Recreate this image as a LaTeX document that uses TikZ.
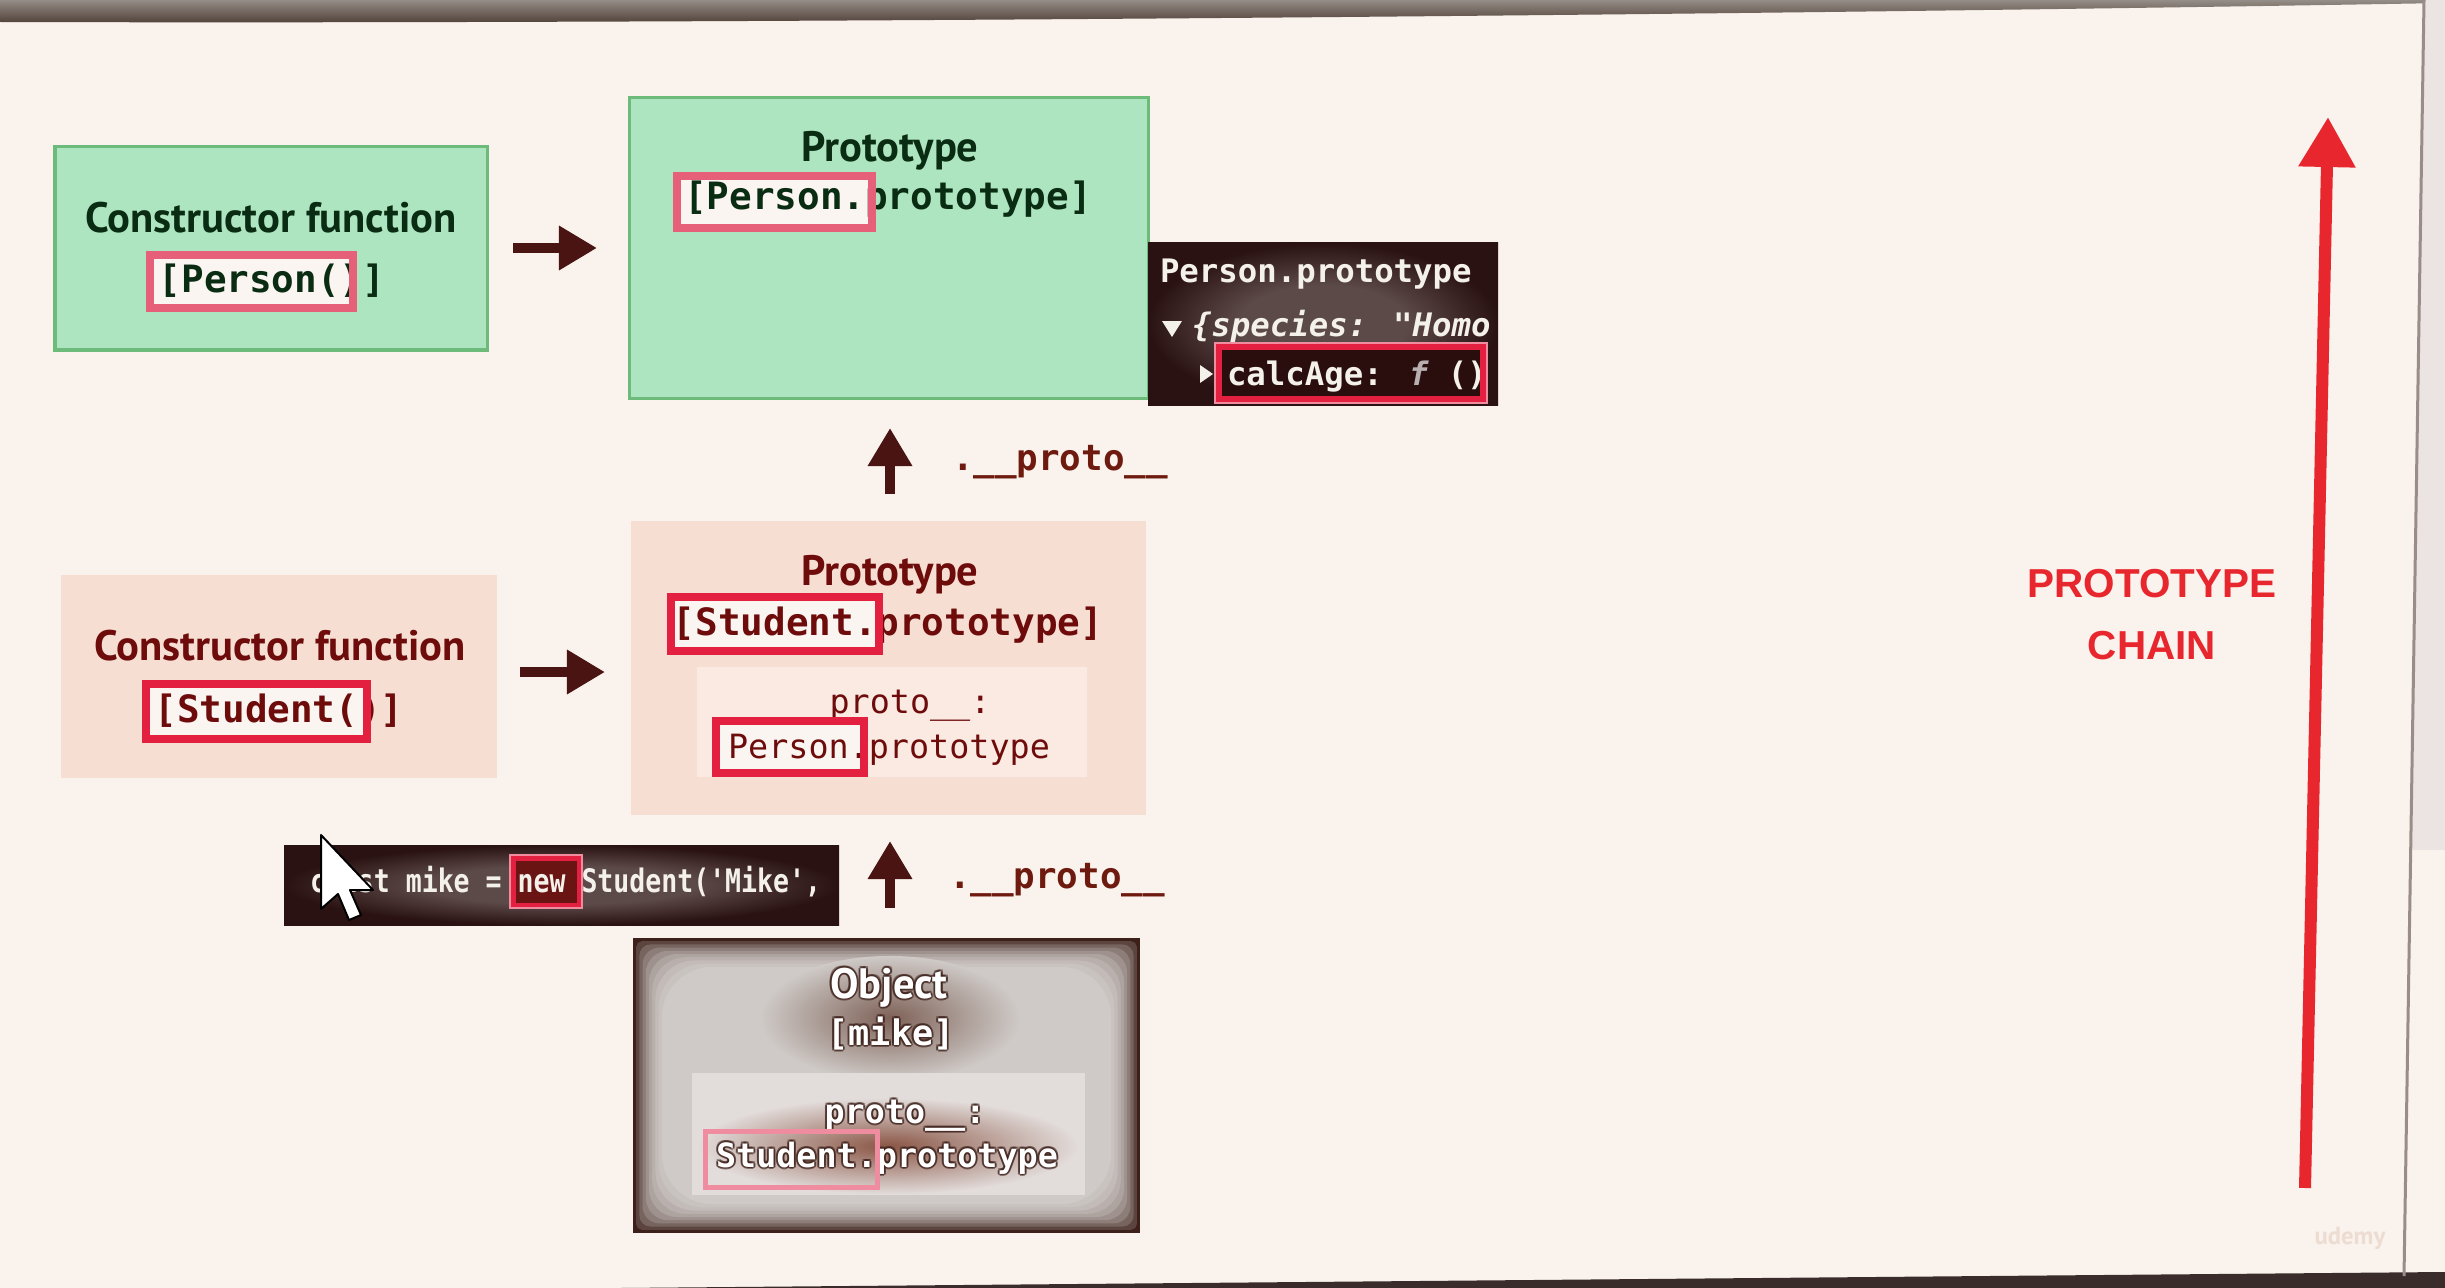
\documentclass[tikz,border=0pt]{standalone}
\usepackage{fontspec}
\setmainfont{PT Sans}
\newfontfamily\mono{DejaVu Sans Mono}
\newfontfamily\condmono{DejaVu Sans Mono}[FakeStretch=0.82]
\newfontfamily\chainfont{Liberation Sans}
\usetikzlibrary{arrows.meta,shadings}

\definecolor{bgc}{HTML}{FAF2EC}
\definecolor{topA}{HTML}{948C86}
\definecolor{topB}{HTML}{4E3E36}
\definecolor{botc}{HTML}{3A2C2A}
\definecolor{edgegrey}{HTML}{ECE4E2}
\definecolor{edgeline}{HTML}{9A8C88}
\definecolor{greenfill}{HTML}{ADE5C0}
\definecolor{greenedge}{HTML}{6DBB7A}
\definecolor{greentext}{HTML}{0A2C12}
\definecolor{pinkbox}{HTML}{F6DED3}
\definecolor{pinkinner}{HTML}{FAEAE2}
\definecolor{redtext}{HTML}{6E0C0C}
\definecolor{hlred}{HTML}{E3203F}
\definecolor{hlpink}{HTML}{E6607A}
\definecolor{hlpale}{HTML}{F08CA0}
\definecolor{hlfill}{HTML}{FAF5F1}
\definecolor{dkC}{HTML}{5C4A48}
\definecolor{dkE}{HTML}{2A1212}
\definecolor{objL}{HTML}{CFCAC7}
\definecolor{objE}{HTML}{3C2019}
\definecolor{glowA}{HTML}{7E6258}
\definecolor{objinner}{HTML}{E2DCDA}
\definecolor{glowB}{HTML}{8A5646}
\definecolor{txtshadow}{HTML}{3E221C}
\definecolor{calcfill}{HTML}{2A0E0E}
\definecolor{newfill}{HTML}{6A1414}
\definecolor{codewhite}{HTML}{F4F0EA}
\definecolor{fgrey}{HTML}{B8B0B0}
\definecolor{arrdark}{HTML}{4A1412}
\definecolor{protolab}{HTML}{6E1A0E}
\definecolor{chainred}{HTML}{E8262E}
\definecolor{wmark}{HTML}{ECDCD2}

\pgfdeclareradialshading{darkvig}{\pgfpoint{0bp}{0bp}}{color(0bp)=(dkC); color(12bp)=(dkC); color(25bp)=(dkE); color(50bp)=(dkE)}

\tikzset{
  every node/.style={inner sep=0pt, outer sep=0pt},
  lbl/.style={anchor=base, font=\fontsize{12.1}{14}\selectfont\bfseries},
  monob/.style={anchor=base, font=\fontsize{10.7}{13}\selectfont\mono\bfseries},
  monobs/.style={anchor=base, font=\fontsize{10}{12}\selectfont\mono\bfseries},
  monor/.style={anchor=base, font=\fontsize{9.5}{12}\selectfont\mono},
  monow/.style={anchor=base, font=\fontsize{9.5}{12}\selectfont\mono\bfseries},
  devb/.style={anchor=base west, font=\fontsize{9.2}{12}\selectfont\mono\bfseries, text=codewhite},
  devi/.style={anchor=base west, font=\fontsize{9.2}{12}\selectfont\mono\bfseries\itshape, text=codewhite},
  codef/.style={anchor=base west, font=\fontsize{9.2}{12}\selectfont\condmono\bfseries, text=codewhite},
  protolbl/.style={anchor=base west, font=\fontsize{10.2}{12}\selectfont\mono\bfseries, text=protolab},
  chainlbl/.style={anchor=base, font=\fontsize{11.5}{13}\selectfont\chainfont\bfseries, text=chainred},
  hlbox/.style={draw=hlred, line width=0.075cm},
  hlpbox/.style={draw=hlpink, line width=0.075cm},
  darr/.style={draw=arrdark, line width=0.105cm, -{Triangle[length=0.38cm,width=0.42cm]}},
  redarr/.style={draw=chainred, line width=0.12cm, -{Triangle[length=0.5cm,width=0.54cm]}},
}

\begin{document}
\begin{tikzpicture}[x=0.01cm,y=-0.01cm]
\useasboundingbox (0,0) rectangle (2445,1288);
\fill[bgc] (0,0) rectangle (2445,1288);

% photo edges
\shade[top color=topA, bottom color=topB] (0,0) -- (2445,0) -- (2445,3) .. controls (1700,16) and (700,24) .. (0,22) -- cycle;
\fill[botc] (620,1288) -- (2445,1288) -- (2445,1272) -- cycle;
\fill[edgegrey] (2424,0) -- (2445,0) -- (2445,850) -- (2412,850) -- cycle;
\draw[edgeline, line width=0.03cm] (2424,0) -- (2404,1276);

% ---------- Person constructor ----------
\filldraw[fill=greenfill, draw=greenedge, line width=0.03cm] (55,147) rectangle (487,350);
\fill[hlfill] (146,251) rectangle (357,312);
\node[lbl, text=greentext] (ctorP) at (271,232) {Constructor function};
\node[monob, text=greentext] (ctorPname) at (272,293) {[Person()]};
\draw[hlpbox] (150,255) rectangle (353,308);

% ---------- Person prototype ----------
\filldraw[fill=greenfill, draw=greenedge, line width=0.03cm] (629,98) rectangle (1148,398);
\fill[hlfill] (673,172) rectangle (876,232);
\node[lbl, text=greentext] (protoP) at (890,162) {Prototype};
\node[monob, text=greentext] (protoPname) at (888,210) {[Person.prototype]};
\draw[hlpbox] (677,176) rectangle (872,228);

% ---------- devtools box ----------
\shade[shading=darkvig] (1148,243) rectangle (1498,405);
\node[devb] (dtitle) at (1160,282) {Person.prototype};
\fill[codewhite] (1162,321) -- (1182,321) -- (1172,337) -- cycle;
\node[devi] (dspecies) at (1192,337) {\{species: "Homo};
\fill[calcfill] (1215,343) rectangle (1487,403);
\fill[codewhite] (1200,365) -- (1200,383) -- (1213,374) -- cycle;
\node[devb] (dcalc) at (1227,385) {calcAge: {\itshape\color{fgrey}f} ()};
\draw[hlred, line width=0.06cm] (1219,347) rectangle (1483,399);
\draw[hlpale, line width=0.015cm] (1215,343) rectangle (1487,403);

% ---------- upper __proto__ arrow ----------
\coordinate (ua1s) at (890,494);
\coordinate (ua1e) at (890,428);
\draw[darr] (ua1s) -- (ua1e);
\node[protolbl] (pl1) at (952,470) {.\_\_proto\_\_};

% ---------- Student constructor ----------
\fill[pinkbox] (61,575) rectangle (497,778);
\fill[hlfill] (142,680) rectangle (371,743);
\node[lbl, text=redtext] (ctorS) at (280,660) {Constructor function};
\node[monob, text=redtext] (ctorSname) at (279,722) {[Student()]};
\draw[hlbox] (146,684) rectangle (367,739);

% ---------- Student prototype ----------
\fill[pinkbox] (631,521) rectangle (1146,815);
\fill[pinkinner] (697,667) rectangle (1087,777);
\fill[hlfill] (667,593) rectangle (883,655);
\node[lbl, text=redtext] (protoS) at (890,585) {Prototype};
\node[monob, text=redtext] (protoSname) at (888,635) {[Student.prototype]};
\draw[hlbox] (671,597) rectangle (879,651);
\fill[hlfill] (712,717) rectangle (868,777);
\node[monor, text=redtext] (protoSlink) at (910,713) {proto\_\_:};
\node[monor, text=redtext] (protoSval) at (889,758) {Person.prototype};
\draw[hlbox] (716,721) rectangle (864,773);

% ---------- horizontal arrows ----------
\coordinate (ra1s) at (513,248);
\coordinate (ra1e) at (597,248);
\draw[darr] (ra1s) -- (ra1e);
\coordinate (ra2s) at (520,672);
\coordinate (ra2e) at (605,672);
\draw[darr] (ra2s) -- (ra2e);

% ---------- code bar ----------
\shade[shading=darkvig] (284,845) rectangle (839,925);
\fill[newfill] (510,855) rectangle (582,908);
\node[codef] (code) at (310,892) {const mike = new Student('Mike',};
\draw[hlred, line width=0.05cm] (513,858) rectangle (579,905);
\draw[hlpale, line width=0.015cm] (510,855) rectangle (582,908);
% mouse cursor
\filldraw[fill=white, draw=black, line width=0.02cm, line join=round]
  (321,835) -- (321,909) -- (338,894) -- (349,920) -- (361,915) -- (350,890) -- (373,890) -- cycle;

% ---------- lower __proto__ arrow ----------
\coordinate (ua2s) at (890,908);
\coordinate (ua2e) at (890,841);
\draw[darr] (ua2s) -- (ua2e);
\node[protolbl] (pl2) at (949,888) {.\_\_proto\_\_};

% ---------- Object mike ----------
\foreach \k/\p in {0/0,1/22,2/40,3/55,4/67,5/77,6/85,7/91,8/96,9/100}{
  \pgfmathsetmacro\ins{\k*3.2}
  \pgfmathsetmacro\rr{\k*1.6}
  \fill[objL!\p!objE, rounded corners=\rr pt] (633+\ins,938+\ins) rectangle (1140-\ins,1233-\ins);
}
\shade[inner color=glowA, outer color=objL] (890,1018) ellipse [x radius=1.3cm, y radius=0.62cm];
\fill[objinner] (692,1073) rectangle (1085,1195);
\shade[inner color=glowB, outer color=objinner] (888,1146) ellipse [x radius=1.9cm, y radius=0.48cm];
% dark halo under the white texts
\foreach \dx/\dy [count=\i] in {2/0,-2/0,0/2,0/-2,1.5/1.5,-1.5/1.5,1.5/-1.5,-1.5/-1.5}{
  \node[lbl, text=txtshadow, opacity=0.55] (objTs\i) at (889+\dx,998+\dy) {Object};
  \node[monobs, text=txtshadow, opacity=0.55] (objNs\i) at (891+\dx,1045+\dy) {[mike]};
  \node[monow, text=txtshadow, opacity=0.55] (objLs\i) at (905+\dx,1123+\dy) {proto\_\_:};
  \node[monow, text=txtshadow, opacity=0.55] (objVs\i) at (887+\dx,1167+\dy) {Student.prototype};
}
\node[lbl, text=white] (objT) at (889,998) {Object};
\node[monobs, text=white] (objN) at (891,1045) {[mike]};
\node[monow, text=white] (objL) at (905,1123) {proto\_\_:};
\node[monow, text=white] (objV) at (887,1167) {Student.prototype};
\draw[hlpale, line width=0.05cm] (705,1131) rectangle (877,1187);

% ---------- prototype chain ----------
\node[chainlbl] (chain1) at (2152,597) {PROTOTYPE};
\node[chainlbl] (chain2) at (2152,659) {CHAIN};
\coordinate (chs) at (2305,1188);
\coordinate (che) at (2328,117);
\draw[redarr] (chs) -- (che);

\node[anchor=base, font=\fontsize{7}{8}\selectfont\bfseries, text=wmark] (wm) at (2350,1244) {udemy};
\end{tikzpicture}
\end{document}
